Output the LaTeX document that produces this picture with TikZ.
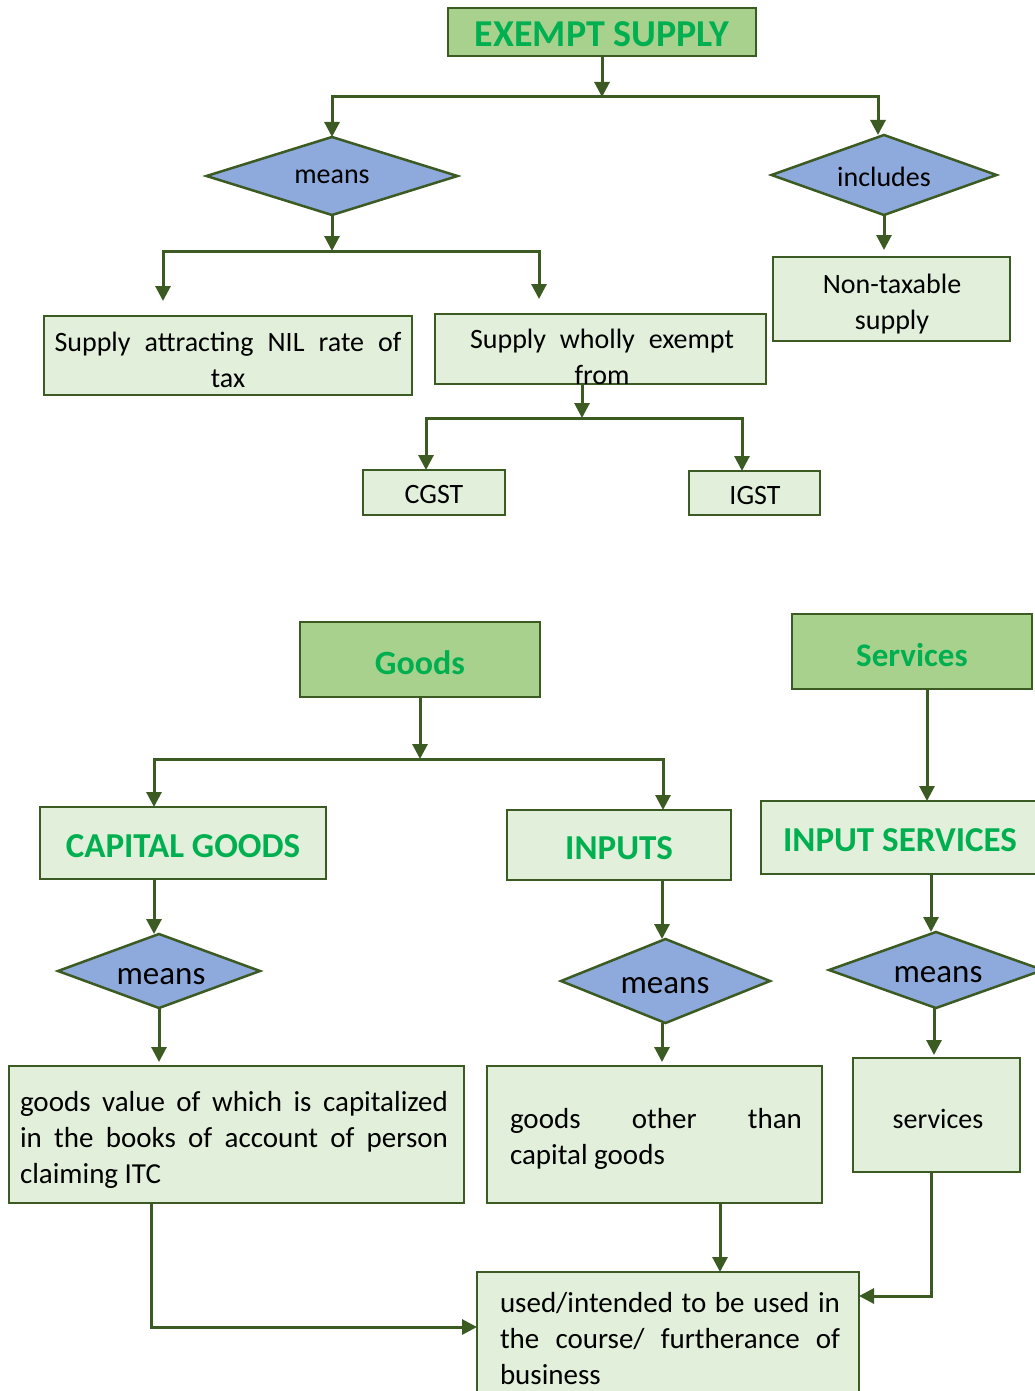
\documentclass[tikz,border=0pt]{standalone}
\usepackage{fontspec}
\setmainfont{Carlito}
\usetikzlibrary{arrows.meta,shapes.geometric}
\definecolor{edgegreen}{HTML}{3B5B23}
\definecolor{boxfill}{HTML}{E2EFDA}
\definecolor{headfill}{HTML}{A9D18E}
\definecolor{diafill}{HTML}{8EA9DB}
\definecolor{titlegreen}{HTML}{00B050}
% a line whose interword spaces stretch to the given width
\newcommand\spreadline[2]{\makebox[#1][s]{#2}}
\begin{document}
\begin{tikzpicture}[x=1pt,y=-1pt,
  box/.style={rectangle,draw=edgegreen,line width=2.5pt,fill=boxfill,inner sep=0pt,outer sep=0pt},
  header/.style={box,fill=headfill},
  choice/.style={diamond,draw=edgegreen,line width=2.5pt,fill=diafill,inner sep=0pt,outer sep=0pt},
  body/.style={font=\fontsize{28}{36}\selectfont,text=black,inner sep=0pt},
  para/.style={font=\fontsize{29}{36}\selectfont,text=black,inner sep=0pt},
  bigbody/.style={font=\fontsize{33}{36}\selectfont,text=black,inner sep=0pt},
  headtxt/.style={font=\fontsize{35}{40}\selectfont\bfseries,text=titlegreen,inner sep=0pt},
  conn/.style={draw=edgegreen,line width=3pt},
  arr/.style={conn,-{Triangle[width=15pt,length=15pt]}},
]
\useasboundingbox (0,0) rectangle (1035,1391);
\clip (0,0) rectangle (1035,1391);

% ---------- exempt supply ----------
\node[header,minimum width=308pt,minimum height=48pt] (exempt) at (602,32) {};
\node[headtxt,font=\fontsize{38}{40}\selectfont\bfseries] (exempt-t) at (602,34) {EXEMPT SUPPLY};

\node[choice,minimum width=251pt,minimum height=78pt] (means1) at (332,176) {};
\node[body] (means1-t) at (332,177) {means};
\node[choice,minimum width=225pt,minimum height=80pt] (incl) at (884,175) {};
\node[body] (incl-t) at (884,177) {includes};

\node[box,minimum width=368pt,minimum height=79pt] (nil) at (228,355.5) {};
\node[body,align=center] (nil-t) at (228,360) {\spreadline{347pt}{Supply attracting NIL rate of}\\tax};
\node[box,minimum width=331pt,minimum height=70pt] (wholly) at (600.5,349) {};
\node[body,align=center] (wholly-t) at (602,357) {\spreadline{264pt}{Supply wholly exempt}\\from};
\node[box,minimum width=237pt,minimum height=84pt] (nontax) at (891.5,299) {};
\node[body,align=center] (nontax-t) at (892,304) {Non-taxable\\supply};

\node[box,minimum width=142pt,minimum height=45pt] (cgst) at (434,492.5) {};
\node[body] (cgst-t) at (434,495) {CGST};
\node[box,minimum width=131pt,minimum height=44pt] (igst) at (754.5,493) {};
\node[body] (igst-t) at (755,496) {IGST};

% junctions and lanes
\coordinate (t0) at (602,97);
\coordinate (m0) at (332,251);
\coordinate (w0) at (582,418);
\coordinate (laneI) at (878,97);
\coordinate (laneA) at (163,251);
\coordinate (laneB) at (539,251);
\coordinate (laneC) at (426,418);
\coordinate (laneD) at (742,418);

\draw[arr] (exempt.south) -- (t0);
\draw[arr] (t0) -| (means1.north);
\draw[arr] (t0) -| (incl.north -| laneI);
\draw[arr] (means1.south) -- (m0);
\draw[arr,shorten >=15pt] (m0) -| (nil.north -| laneA);
\draw[arr,shorten >=15pt] (m0) -| (wholly.north -| laneB);
\draw[arr,shorten >=7pt] (incl.south) -- (nontax.north -| incl.south);
\draw[arr] (wholly.south -| w0) -- (w0);
\draw[arr] (w0) -| (cgst.north -| laneC);
\draw[arr] (w0) -| (igst.north -| laneD);

% ---------- goods and services ----------
\node[header,minimum width=240pt,minimum height=75pt] (goods) at (420,659.5) {};
\node[headtxt,font=\fontsize{34}{40}\selectfont\bfseries] (goods-t) at (420,663) {Goods};
\node[header,minimum width=240pt,minimum height=75pt] (services) at (912,651.5) {};
\node[headtxt,font=\fontsize{33}{40}\selectfont\bfseries] (services-t) at (912,655) {Services};

\node[box,minimum width=286pt,minimum height=72pt] (capg) at (183,843) {};
\node[headtxt] (capg-t) at (183,846) {CAPITAL GOODS};
\node[box,minimum width=224pt,minimum height=70pt] (inputs) at (619,845) {};
\node[headtxt] (inputs-t) at (619,848) {INPUTS};
\node[box,minimum width=278pt,minimum height=73pt] (insvc) at (900,837.5) {};
\node[headtxt] (insvc-t) at (900,840) {INPUT SERVICES};

\node[choice,minimum width=202pt,minimum height=74pt] (means2) at (159,971) {};
\node[bigbody] (means2-t) at (161,977) {means};
\node[choice,minimum width=209pt,minimum height=84pt] (means3) at (665.5,981) {};
\node[bigbody] (means3-t) at (665,986) {means};
\node[choice,minimum width=214pt,minimum height=76pt] (means4) at (936,970) {};
\node[bigbody] (means4-t) at (938,975) {means};

\node[box,minimum width=455pt,minimum height=137pt] (capdef) at (236.5,1134.5) {};
\node[para,align=left] (capdef-t) at (234,1140)
  {\spreadline{428pt}{goods value of which is capitalized}\\
   \spreadline{428pt}{in the books of account of person}\\
   claiming ITC};
\node[box,minimum width=335pt,minimum height=137pt] (inpdef) at (654.5,1134.5) {};
\node[para,align=left] (inpdef-t) at (656,1139)
  {\spreadline{292pt}{goods other than}\\capital goods};
\node[box,minimum width=167pt,minimum height=114pt] (svcbox) at (936.5,1115) {};
\node[body] (svcbox-t) at (938,1119) {services};

\node[box,minimum width=382pt,minimum height=134pt] (used) at (668,1339) {};
\node[para,align=left] (used-t) at (670,1339)
  {\spreadline{340pt}{used/intended to be used in}\\
   \spreadline{340pt}{the course/ furtherance of}\\
   business};

% junctions and lanes
\coordinate (g0) at (420,759);
\coordinate (laneE) at (154,759);
\coordinate (laneF) at (663,759);
\coordinate (laneG) at (927,700);
\coordinate (laneH) at (662,900);
\coordinate (laneJ) at (931,900);
\coordinate (laneK) at (934,1030);
\coordinate (laneL) at (720,1230);
\coordinate (laneM) at (931,1296);
\coordinate (laneN) at (151,1327);

\draw[arr] (goods.south) -- (g0);
\draw[arr] (g0) -| (capg.north -| laneE);
\draw[arr] (g0) -| (inputs.north -| laneF);
\draw[arr] (services.south -| laneG) -- (insvc.north -| laneG);
\draw[arr] (capg.south -| laneE) -- (means2.north -| laneE);
\draw[arr,shorten >=4pt] (means2.south) -- (capdef.north -| means2.south);
\draw[arr] (inputs.south -| laneH) -- (means3.north -| laneH);
\draw[arr,shorten >=4pt] (means3.south -| laneH) -- (inpdef.north -| laneH);
\draw[arr] (insvc.south -| laneJ) -- (means4.north -| laneJ);
\draw[arr,shorten >=3pt] (means4.south -| laneK) -- (svcbox.north -| laneK);
\draw[arr] (inpdef.south -| laneL) -- (used.north -| laneL);
\draw[arr] (svcbox.south -| laneM) |- (used.east |- laneM);
\draw[arr] (capdef.south -| laneN) |- (used.west |- laneN);
\end{tikzpicture}
\end{document}
